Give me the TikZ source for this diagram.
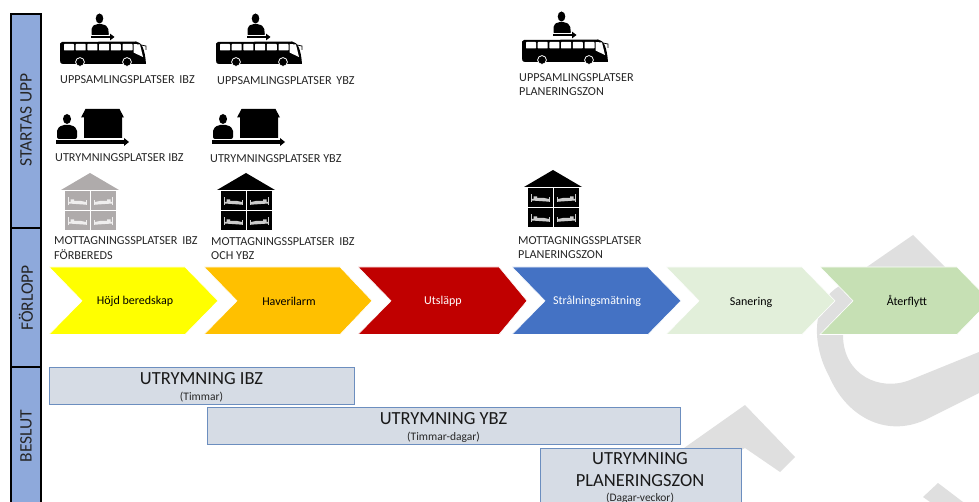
\documentclass[tikz,border=0pt]{standalone}
\usepackage{fontspec}
\setmainfont{Carlito}
\definecolor{bandblue}{HTML}{8EA9DB}
\definecolor{wm}{HTML}{DFDFDF}
\definecolor{boxfill}{HTML}{D6DCE5}
\definecolor{boxline}{HTML}{6C8EBF}
\definecolor{greyicon}{HTML}{AFABAB}
\definecolor{txt}{HTML}{262626}
\definecolor{cyellow}{HTML}{FFFF00}
\definecolor{corange}{HTML}{FFC000}
\definecolor{cred}{HTML}{C00000}
\definecolor{cblue}{HTML}{4472C4}
\definecolor{cpale}{HTML}{E2EFDA}
\definecolor{cgreen}{HTML}{C6E0B4}
\tikzset{
  x=1pt,y=-1pt,
  band/.style={draw=black,line width=1.8pt,fill=bandblue},
  bandtext/.style={rotate=90,font=\fontsize{17.5}{20}\selectfont,text=txt,inner sep=0pt},
  chev/.style={draw=white,line width=0.6pt},
  chevtext/.style={font=\fontsize{12}{14}\selectfont,inner sep=0pt},
  lab/.style={anchor=west,font=\fontsize{12.2}{14.7}\selectfont,align=left,inner sep=0pt,text=txt},
  plan/.style={draw=boxline,line width=1pt,fill=boxfill},
  ptitle/.style={font=\fontsize{18.5}{22}\selectfont,inner sep=0pt,align=center,text=black!90},
  psub/.style={font=\fontsize{11.5}{13}\selectfont,inner sep=0pt,text=txt},
  pics/busicon/.style={code={
    \fill[black] (62,42) -- (136,41.5) .. controls (142,42) and (145,50) .. (146,64) -- (64,64) .. controls (60,64) and (60,62) .. (60,60) -- (60,47) .. controls (60,44) and (60,42) .. (62,42) -- cycle;
    \foreach \wx in {64,75.7,87.4,99.1,110.8,122.5}
      \fill[white,rounded corners=0.6pt] (\wx,44) rectangle (\wx+10,50.5);
    \fill[white] (133.5,44) -- (140,44.5) -- (143,57) -- (133.5,52.5) -- cycle;
    \draw[black,line width=0.7pt] (141,45) -- (146,46) -- (146,50);
    \fill[black,draw=white,line width=0.8pt] (80,62) circle (4.4);
    \fill[black,draw=white,line width=0.8pt] (127,62) circle (4.4);
    \fill[black] (99.5,18.5) ellipse (3.8 and 5);
    \fill[black,rounded corners=2pt] (91.5,36) -- (91.5,27) -- (96,24) -- (103,24) -- (108,27) -- (109,36) -- cycle;
    \fill[white] (91,35) rectangle (110,35.6);
    \fill[black] (91,35.6) rectangle (110,38.4);
    \fill[black] (110,33.6) -- (114.5,37) -- (110,40.4) -- cycle;
  }},
  pics/moveicon/.style={code={
    \fill[black] (67,119) ellipse (4 and 5);
    \fill[black,rounded corners=2pt] (57,139) -- (57,129) -- (62,125) -- (72,125) -- (77,129) -- (77,139) -- cycle;
    \fill[black] (81,117.5) -- (85.5,109) -- (119.5,109) -- (124,117.5) -- (122,117.5) -- (122,138) -- (84,138) -- (84,117.5) -- cycle;
    \fill[black] (56,140) rectangle (124,144);
    \fill[black] (124,138) -- (129,142) -- (124,146) -- cycle;
  }},
  pics/bedicon/.style={code={
    \fill[white,opacity=.8] (-9.5,-4) rectangle (-8.7,4);
    \fill[white,opacity=.8] (8.7,-1) rectangle (9.5,4);
    \fill[white,opacity=.8] (-8.7,2) -- (-8.7,0.5) -- (-7,0.5) -- (-7,-2) -- (-3.5,-2) -- (-3.5,-0.5) -- (3,-0.7) -- (8.7,0.6) -- (8.7,3.2) -- cycle;
  }},
  pics/shelter/.style={code={
    \fill[#1] (90,173) -- (119,190) -- (61,190) -- cycle;
    \fill[#1] (65,191) rectangle (116,230);
    \draw[white,line width=0.9pt] (90.3,191) -- (90.3,230) (65,210.8) -- (116,210.8);
    \pic at (77.5,201.5) {bedicon};
    \pic[xscale=-1] at (103.5,201.5) {bedicon};
    \pic at (77.5,221.5) {bedicon};
    \pic[xscale=-1] at (103.5,221.5) {bedicon};
  }},
}
\newcommand{\chevshape}[5]{% left, notch, right, tip, colour
  \fill[#5,chev] (#1,267) -- (#3,267) -- (#4,300.8) -- (#3,334.5) -- (#1,334.5) -- (#2,300.8) -- cycle;}
\begin{document}
\begin{tikzpicture}
\useasboundingbox (0,0) rectangle (979,502);
\clip (0,0) rectangle (979,502);
% watermark
\fill[wm] (913,235) -- (835,289) .. controls (812,306) and (812,345) .. (829,376) .. controls (846,416) and (885,438) .. (925,420) -- (979,393) -- (979,352) -- (910,380) .. controls (880,392) and (843,375) .. (843,335) .. controls (843,318) and (852,305) .. (870,295) -- (910,300) -- (960,282) -- cycle;
\fill[wm] (745,405) -- (660,465) -- (690,480) -- (745,448) -- (780,472) -- (795,457) -- cycle;
\fill[wm] (938,483) -- (923,497) -- (930,502) -- (963,502) -- cycle;
% side bands
\draw[band] (11,14) rectangle (41,228);
\draw[band] (11,228) rectangle (41,367);
\draw[band] (11,367) rectangle (41,510);
\node[bandtext] (tA) at (26,120) {STARTAS UPP};
\node[bandtext] (tB) at (26,298) {FÖRLOPP};
\node[bandtext] (tC) at (26,436) {BESLUT};
% icons
\pic at (0,0) {busicon};
\pic at (156,0) {busicon};
\pic at (462,-2) {busicon};
\pic at (0,0) {moveicon};
\pic at (156,0) {moveicon};
\pic at (0,0) {shelter=greyicon};
\pic at (156,0) {shelter=black};
\pic at (463,-3) {shelter=black};
% labels
\node[lab] (l1) at (60,80) {UPPSAMLINGSPLATSER\, IBZ};
\node[lab] (l2) at (217,81) {UPPSAMLINGSPLATSER\, YBZ};
\node[lab] (l3) at (519,84.5) {UPPSAMLINGSPLATSER\\PLANERINGSZON};
\node[lab] (l4) at (55,158) {UTRYMNINGSPLATSER IBZ};
\node[lab] (l5) at (210,159) {UTRYMNINGSPLATSER YBZ};
\node[lab] (l6) at (54,248) {MOTTAGNINGSSPLATSER\, IBZ\\FÖRBEREDS};
\node[lab] (l7) at (211,248.5) {MOTTAGNINGSSPLATSER\, IBZ\\OCH YBZ};
\node[lab] (l8) at (518,247.5) {MOTTAGNINGSSPLATSER\\PLANERINGSZON};
% chevrons
\chevshape{49}{82}{185}{218}{cyellow}
\chevshape{204}{237}{340}{372}{corange}
\chevshape{358}{391}{499}{527}{cred}
\chevshape{512}{545}{648}{681}{cblue}
\chevshape{666}{699}{802}{835}{cpale}
\chevshape{820}{853}{957}{990}{cgreen}
\node[chevtext] (c1) at (135,301) {Höjd beredskap};
\node[chevtext] (c2) at (289,301) {Haverilarm};
\node[chevtext,text=white] (c3) at (443,301) {Utsläpp};
\node[chevtext,text=white] (c4) at (597,301) {Strålningsmätning};
\node[chevtext] (c5) at (751,302) {Sanering};
\node[chevtext] (c6) at (907,301) {Återflytt};
% plan boxes
\draw[plan] (49.5,367.5) rectangle (354,404);
\draw[plan] (207,407.5) rectangle (680,444);
\draw[plan] (540,448) rectangle (741,515);
\node[ptitle] (p1) at (201.5,378.5) {UTRYMNING IBZ};
\node[psub] (s1) at (201.5,397) {(Timmar)};
\node[ptitle] (p2) at (443.5,419) {UTRYMNING YBZ};
\node[psub] (s2) at (443.5,437) {(Timmar-dagar)};
\node[ptitle] (p3) at (640,470) {UTRYMNING\\PLANERINGSZON};
\node[psub] (s3) at (640,498) {(Dagar-veckor)};
\end{tikzpicture}
\end{document}
